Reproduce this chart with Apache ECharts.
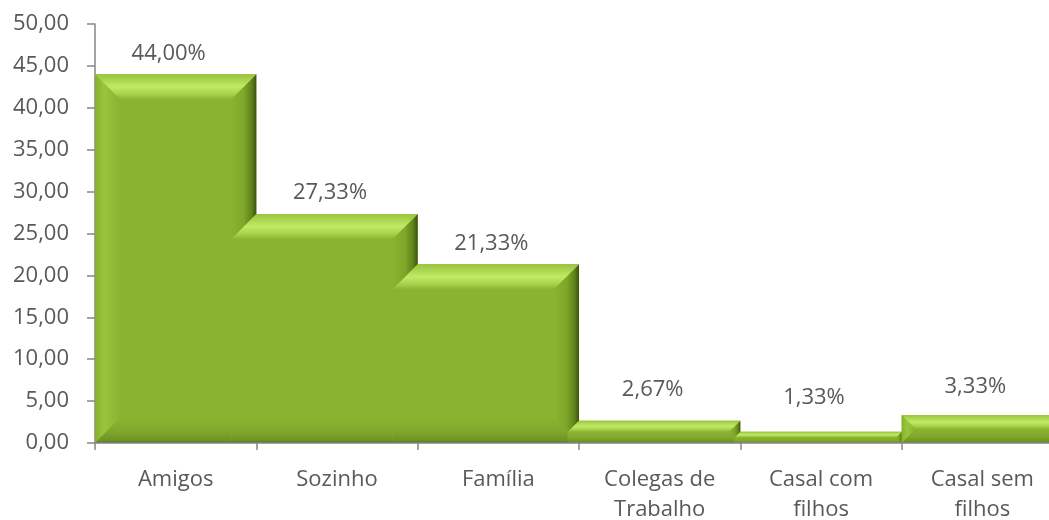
<!DOCTYPE html>
<html>
<head>
<meta charset="utf-8">
<title>Com quem</title>
<script src="https://cdn.jsdelivr.net/npm/echarts@6/dist/echarts.min.js"></script>
<style>
  html, body { margin: 0; padding: 0; background: #fff; }
  #main { width: 1049px; height: 520px; }
</style>
</head>
<body>
<div id="main"></div>
<script>
// data
var categories = ['Amigos', 'Sozinho', 'Família', 'Colegas de\nTrabalho', 'Casal com\nfilhos', 'Casal sem\nfilhos'];
var values = [44.00, 27.33, 21.33, 2.67, 1.33, 3.33];
var yMin = 0, yMax = 50, yStep = 5;

var FONT = '"Open Sans", "Noto Sans", sans-serif';
var TEXT = '#595959';
var AXIS = '#868686';

function fmt(v, d) {
    return v.toFixed(d).replace('.', ',');
}

function grad(vertical, stops) {
    return new echarts.graphic.LinearGradient(0, 0, vertical ? 0 : 1, vertical ? 1 : 0,
        stops.map(function (s) { return { offset: s[0], color: s[1] }; }));
}

// bevelled bar, roughly like the excel look
function renderBar(params, api) {
    var i = api.value(0), v = api.value(1);
    var top = api.coord([i, v]);
    var base = api.coord([i, 0]);
    var w = api.size([1, 0])[0];
    var xl = top[0] - w / 2, xr = top[0] + w / 2;
    var yt = top[1], yb = base[1];
    var b = Math.min(25, (yb - yt) / 2);
    // when the bar on the left is taller, the top face slides under it
    var e = (i > 0 && values[i - 1] > v) ? b : 0;

    var kids = [];
    var face = e
        ? [[xl, yt], [xr, yt], [xr, yb], [xl - e, yb], [xl - e, yt + b]]
        : [[xl, yt], [xr, yt], [xr, yb], [xl, yb]];
    kids.push({ type: 'polygon', shape: { points: face }, style: { fill: '#8ab430' } });

    if (!e) {
        kids.push({
            type: 'polygon',
            shape: { points: [[xl, yt], [xl + b, yt + b], [xl + b, yb - b], [xl, yb]] },
            style: { fill: grad(false, [[0, '#86b02c'], [0.35, '#99c43d'], [1, '#8ab430']]) }
        });
    }
    kids.push({
        type: 'polygon',
        shape: { points: [[xl - e, yb], [xr, yb], [xr - b, yb - b], [e ? xl - e : xl + b, yb - b]] },
        style: { fill: grad(true, [[0, '#8ab430'], [0.55, '#80a72c'], [0.9, '#6e9125'], [1, '#526f16']]) }
    });
    kids.push({
        type: 'polygon',
        shape: { points: [[xr, yt], [xr, yb], [xr - b, yb - b], [xr - b, yt + b]] },
        style: { fill: grad(false, [[0, '#8ab430'], [0.5, '#7ea62a'], [0.82, '#5f821a'], [1, '#3a520c']]) }
    });
    kids.push({
        type: 'polygon',
        shape: { points: e
            ? [[xl, yt], [xr, yt], [xr - b, yt + b], [xl - e, yt + b]]
            : [[xl, yt], [xr, yt], [xr - b, yt + b], [xl + b, yt + b]] },
        style: { fill: grad(true, [[0, '#9ac43e'], [0.5, '#bfea64'], [0.78, '#a8d34d'], [1, '#8cb631']]) }
    });

    kids.push({
        type: 'text',
        style: {
            text: fmt(v, 2) + '%',
            x: top[0] - 7,
            y: yt - 21 - 0.7 * (25 - b),
            align: 'center',
            verticalAlign: 'middle',
            fill: TEXT,
            fontSize: 22,
            fontFamily: FONT
        }
    });
    return { type: 'group', children: kids };
}

var chart = echarts.init(document.getElementById('main'), null, { renderer: 'canvas' });
chart.setOption({
    animation: false,
    // last category runs past the right edge, like the source
    grid: { left: 95, right: -14, top: 24, bottom: 77, containLabel: false, outerBoundsMode: 'none' },
    xAxis: {
        type: 'category',
        data: categories,
        boundaryGap: true,
        axisLine: { show: true, lineStyle: { color: AXIS, width: 1.5 } },
        axisTick: { show: true, length: 7, alignWithLabel: false, lineStyle: { color: AXIS, width: 1.5 } },
        axisLabel: { color: TEXT, fontSize: 22, fontFamily: FONT, lineHeight: 30, margin: 22, interval: 0 },
        splitLine: { show: false },
        z: 3
    },
    yAxis: {
        type: 'value',
        min: yMin,
        max: yMax,
        interval: yStep,
        axisLine: { show: true, lineStyle: { color: AXIS, width: 1.5 } },
        axisTick: { show: true, length: 8, lineStyle: { color: AXIS, width: 1.5 } },
        axisLabel: { color: TEXT, fontSize: 22, fontFamily: FONT, margin: 26, formatter: function (v) { return fmt(v, 2); } },
        splitLine: { show: false }
    },
    series: [{
        type: 'custom',
        renderItem: renderBar,
        encode: { x: 0, y: 1 },
        data: values.map(function (v, i) { return [i, v]; }),
        clip: false,
        z: 2
    }]
});
</script>
</body>
</html>
